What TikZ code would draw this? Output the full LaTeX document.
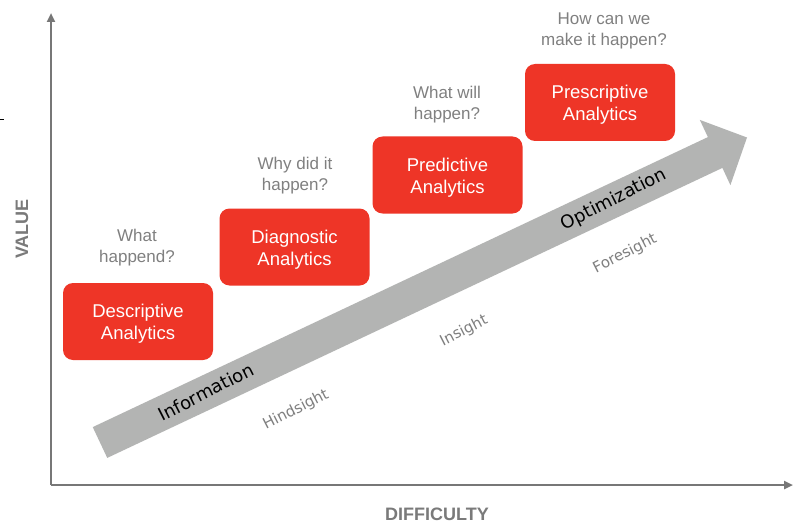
\documentclass[tikz,border=0pt]{standalone}
\usepackage{fontspec}
\setmainfont{Liberation Sans}
\newfontfamily\dejavu{DejaVu Sans}
\usetikzlibrary{arrows.meta}
\definecolor{boxred}{HTML}{EE3527}
\definecolor{arrowgray}{HTML}{B3B4B3}
\definecolor{axisgray}{HTML}{777777}
\definecolor{qgray}{HTML}{808080}
\definecolor{labgray}{HTML}{7A7A7A}
\tikzset{
  stagebox/.style={fill=boxred, rounded corners=10pt, minimum width=150pt, minimum height=77pt,
    inner sep=0pt},
  stagetext/.style={text=white, align=center, inner sep=0pt, font=\fontsize{18.5}{22}\selectfont},
  question/.style={text=qgray, align=center, inner sep=0pt, font=\fontsize{17}{21}\selectfont},
  axisline/.style={draw=axisgray, line width=2.5pt, -{Triangle[length=9pt,width=8pt]}},
  bandlabel/.style={rotate=27, inner sep=0pt, font=\dejavu\fontsize{18}{22}\selectfont, text=black},
  sightlabel/.style={rotate=27, inner sep=0pt, font=\dejavu\fontsize{15}{18}\selectfont, text=qgray},
  axislabel/.style={text=labgray, inner sep=0pt, font=\bfseries\fontsize{18}{22}\selectfont}
}
\begin{document}
\begin{tikzpicture}[x=1pt,y=-1pt]
\useasboundingbox (0,0) rectangle (795,524);
\fill[white] (0,0) rectangle (795,524);

% small tick at left edge
\coordinate (tickA) at (0,119);
\coordinate (tickB) at (3.5,119);
\draw[black, line width=0.9pt] (tickA) -- (tickB);

% axes
\coordinate (origin) at (51,485);
\coordinate (ytop) at (51,13);
\coordinate (xend) at (793,485);
\draw[axisline] (origin) -- (ytop);
\draw[axisline] (origin) -- (xend);

% axis labels
\node[axislabel, rotate=90] (value) at (22,229) {VALUE};
\node[axislabel] (difficulty) at (437,514) {DIFFICULTY};

% big gray arrow
\fill[arrowgray] (92.75,427.1) -- (707.9,137.1) -- (699.8,119.9) -- (747,137.5)
  -- (730.4,185.1) -- (722.4,167.9) -- (107.25,457.9) -- cycle;

% labels on / under the arrow
\node[bandlabel] (information) at (206,392) {Information};
\node[bandlabel] (optimization) at (614,200) {Optimization};
\node[sightlabel] (hindsight) at (296,410) {Hindsight};
\node[sightlabel] (insight) at (464,331) {Insight};
\node[sightlabel] (foresight) at (625,254) {Foresight};

% stage boxes
\node[stagebox] (descriptive) at (138,321.5) {};
\node[stagebox] (diagnostic) at (294.5,247) {};
\node[stagebox] (predictive) at (447.5,175) {};
\node[stagebox] (prescriptive) at (600,102.5) {};
\node[stagetext] (descriptiveT) at ([yshift=-2.5pt]descriptive.center) {Descriptive\\Analytics};
\node[stagetext] (diagnosticT) at ([yshift=-2.5pt]diagnostic.center) {Diagnostic\\Analytics};
\node[stagetext] (predictiveT) at ([yshift=-2.5pt]predictive.center) {Predictive\\Analytics};
\node[stagetext] (prescriptiveT) at ([yshift=-2.5pt]prescriptive.center) {Prescriptive\\Analytics};

% questions
\node[question] (q1) at (137,248) {What\\happend?};
\node[question] (q2) at (295,176) {Why did it\\happen?};
\node[question] (q3) at (447,104.5) {What will\\happen?};
\node[question] (q4) at (604,31) {How can we\\make it happen?};
\end{tikzpicture}
\end{document}
